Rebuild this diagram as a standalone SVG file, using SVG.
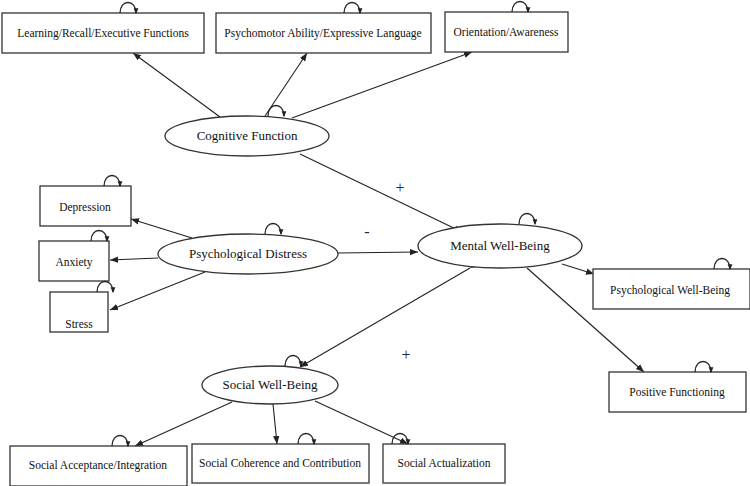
<svg xmlns="http://www.w3.org/2000/svg" width="750" height="486" viewBox="0 0 750 486" font-family="'Liberation Serif', 'Times New Roman', serif">
<style>
.b{fill:#fff;stroke:#333;stroke-width:1.3}
text{font-family:"Liberation Serif","Times New Roman",serif;font-size:11.5px;text-anchor:middle;fill:#111}
text.e{font-size:13px}
text.s{font-size:16px;fill:#1a2a50}
.c line{stroke:#222;stroke-width:1.1;marker-end:url(#a)}
.l{fill:none;stroke:#222;stroke-width:1.3;marker-end:url(#s)}
</style>
<defs>
<marker id="a" viewBox="0 0 10 10" refX="10" refY="5" markerWidth="8" markerHeight="8" orient="auto" markerUnits="userSpaceOnUse"><path d="M0,1L10,5L0,9z" fill="#222"/></marker>
<marker id="s" viewBox="0 0 10 10" refX="8" refY="5" markerWidth="6" markerHeight="6" orient="auto" markerUnits="userSpaceOnUse"><path d="M0,1L10,5L0,9z" fill="#222"/></marker>
<path id="lp" d="M-8,0 C-8,-14 8,-14 8,0"/>
</defs>
<rect width="750" height="486" fill="#fff"/>
<g class="c">
<line x1="220" y1="117" x2="133" y2="53"/>
<line x1="265" y1="116" x2="307" y2="53"/>
<line x1="292" y1="118" x2="472" y2="52"/>
<line x1="300" y1="154" x2="462" y2="232"/>
<line x1="192" y1="238" x2="131" y2="219"/>
<line x1="158" y1="258" x2="110" y2="260"/>
<line x1="205" y1="272" x2="110" y2="310"/>
<line x1="338" y1="253" x2="418" y2="252"/>
<line x1="470" y1="268" x2="300" y2="367" style="marker-start:url(#a)"/>
<line x1="562" y1="264" x2="594" y2="274"/>
<line x1="527" y1="268" x2="644" y2="372"/>
<line x1="232" y1="402" x2="135" y2="446"/>
<line x1="273" y1="404" x2="277" y2="444"/>
<line x1="315" y1="401" x2="408" y2="444"/>
</g>
<g id="learning"><rect class="b" x="2" y="13" width="202" height="40"/><text x="103" y="37">Learning/Recall/Executive Functions</text><use href="#lp" class="l" x="128" y="13"/></g>
<g id="psychomotor"><rect class="b" x="216" y="13" width="215" height="40"/><text x="323" y="37">Psychomotor Ability/Expressive Language</text><use href="#lp" class="l" x="352" y="13"/></g>
<g id="orientation"><rect class="b" x="445" y="12" width="123" height="40"/><text x="506" y="36">Orientation/Awareness</text><use href="#lp" class="l" x="520" y="12"/></g>
<g id="cognitive"><ellipse class="b" cx="247" cy="136" rx="82" ry="20"/><text class="e" x="247" y="140">Cognitive Function</text><use href="#lp" class="l" x="276" y="116"/></g>
<g id="depression"><rect class="b" x="40" y="186" width="91" height="40"/><text x="85" y="211">Depression</text><use href="#lp" class="l" x="112" y="186"/></g>
<g id="anxiety"><rect class="b" x="39" y="241" width="70" height="40"/><text x="74" y="266">Anxiety</text><use href="#lp" class="l" x="99" y="241"/></g>
<g id="stress"><rect class="b" x="50" y="292" width="58" height="40"/><text x="79" y="328">Stress</text><use href="#lp" class="l" x="105" y="292"/></g>
<g id="distress"><ellipse class="b" cx="248" cy="254" rx="90" ry="20"/><text class="e" x="248" y="258">Psychological Distress</text><use href="#lp" class="l" x="273" y="234"/></g>
<g id="mwb"><ellipse class="b" cx="500" cy="246" rx="82" ry="22"/><text class="e" x="500" y="250">Mental Well-Being</text><use href="#lp" class="l" x="527" y="224"/></g>
<g id="pwb"><rect class="b" x="593" y="269" width="157" height="40"/><text x="670" y="294">Psychological Well-Being</text><use href="#lp" class="l" x="722" y="269"/></g>
<g id="pf"><rect class="b" x="609" y="372" width="137" height="40"/><text x="677" y="396">Positive Functioning</text><use href="#lp" class="l" x="703" y="372"/></g>
<g id="swb"><ellipse class="b" cx="270" cy="385" rx="68" ry="19"/><text class="e" x="270" y="389">Social Well-Being</text><use href="#lp" class="l" x="293" y="366"/></g>
<g id="sai"><rect class="b" x="10" y="446" width="177" height="40"/><text x="98" y="469">Social Acceptance/Integration</text><use href="#lp" class="l" x="120" y="446"/></g>
<g id="scc"><rect class="b" x="192" y="444" width="177" height="39"/><text x="280" y="467">Social Coherence and Contribution</text><use href="#lp" class="l" x="306" y="444"/></g>
<g id="sa"><rect class="b" x="383" y="444" width="122" height="39"/><text x="444" y="467">Social Actualization</text><use href="#lp" class="l" x="400" y="444"/></g>
<text class="s" x="400" y="193">+</text>
<text class="s" x="367" y="237">-</text>
<text class="s" x="406" y="360">+</text>
</svg>
